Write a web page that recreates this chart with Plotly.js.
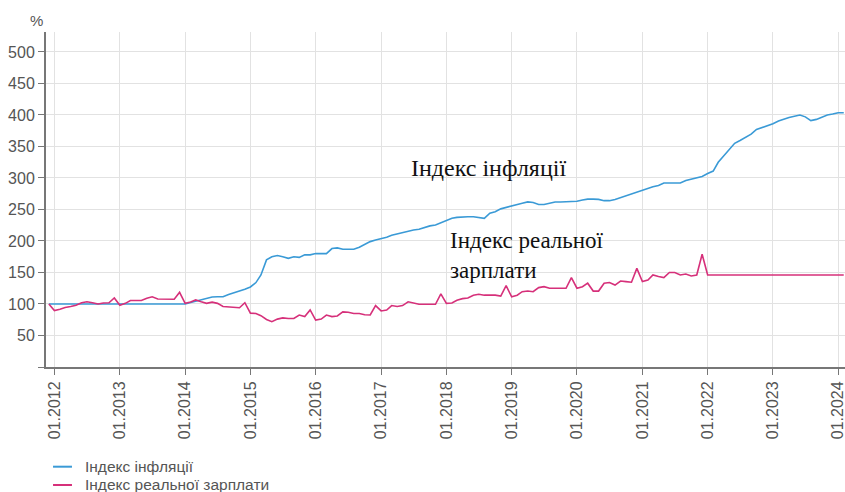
<!DOCTYPE html>
<html><head><meta charset="utf-8">
<script src="https://cdn.plot.ly/plotly-3.0.1.min.js"></script>
<style>html,body{margin:0;padding:0;background:#fff}#chart{width:845px;height:492px}</style>
</head><body><div id="chart"></div>
<script>
// Monthly series from 12.2011 to 02.2024
var startYear = 2011, startMonth = 12, nMonths = 147;

var inflationIndex = [
  100,
  100,100,100,100,100,100,100,100,100,100,100,100,
  100,100,100,100,100,100,100,100,100,100,100,100,
  100,102.5,104.5,107,110,111,111.5,111.5,115,117.5,120,123.5,
  127,134,146,170,175,177,175,172.5,175,174,178,178,
  180,180,180,188,189,187,187,187,190,194,199,201.5,
  203.5,206,209,211,213,216,217.5,218.5,221.5,224,225.5,229,
  233,236,237.5,238.5,238.5,238.5,237,236,244,246.5,251,253.5,
  255.5,257.5,260,262,261,258,258,260,262,262,262,262,
  263,265,266.5,266.5,266,264,264,266,269,272,274.5,278,
  281,283,286,288,292,292,292,292,296,298.5,300,302.5,
  307,311,325,335,345,355,359.5,364,369.5,377,380,384,
  386,390.5,393.5,396,398,400,397,391,393,397,400,401.5,
  403.5,403.5
];

var realWageIndex = [
  100,
  89.5,91.5,94.5,96,98,102,103.5,102,100,101.5,102,109.5,
  98,101,105.5,105.5,105.5,109,111.5,108,107.5,107.5,107.5,118.5,
  101,103,106.5,103.5,101,103,101,96,95.5,94,94,102,
  85.5,85,81.5,75.5,72,76,78,77,77,82.5,80,90.5,
  74.5,76,82.5,80,81,87.5,87,85,85,83,82.5,97.5,
  89,90.5,97.5,96,97.5,103.5,102,99.5,99.5,99.5,99.5,116,
  101,101.5,106,108.5,109.5,114,115.5,114,114,114,112.5,129,
  111.5,114,119.5,120.5,119.5,126,127.5,125,125,125,125,142,
  125,127.5,133,120.5,120.5,133,134,130,136.5,135.5,134.5,156.5,
  135.5,138,146,143.5,142,150,150,146,147.5,144.5,146,179,
  146,146,146,146,146,146,146,146,146,146,146,146,
  146,146,146,146,146,146,146,146,146,146,146,146,
  146,146
];

var seriesNames = ['Індекс інфляції', 'Індекс реальної зарплати'];
var seriesColors = ['#3a9ad6', '#d6307a'];

var xTickVals = ['2012-01-01','2013-01-01','2014-01-01','2015-01-01','2016-01-01','2017-01-01','2018-01-01','2019-01-01','2020-01-01','2021-01-01','2022-01-01','2023-01-01','2024-01-01'];
var xTickText = ['01.2012','01.2013','01.2014','01.2015','01.2016','01.2017','01.2018','01.2019','01.2020','01.2021','01.2022','01.2023','01.2024'];
var yTickVals = [0,50,100,150,200,250,300,350,400,450,500];
var yTickText = ['','50','100','150','200','250','300','350','400','450','500'];

var months = [];
for (var i = 0; i < nMonths; i++) {
  var m = startMonth - 1 + i;
  var y = startYear + Math.floor(m / 12);
  var mm = (m % 12) + 1;
  months.push(y + '-' + (mm < 10 ? '0' : '') + mm + '-01');
}

var traces = [
  {x: months, y: inflationIndex, type: 'scatter', mode: 'lines', name: seriesNames[0],
   line: {color: seriesColors[0], width: 1.6}},
  {x: months, y: realWageIndex, type: 'scatter', mode: 'lines', name: seriesNames[1],
   line: {color: seriesColors[1], width: 1.6}}
];

var sans = 'Arial, "Liberation Sans", sans-serif';
var tickFont = {family: sans, size: 16, color: '#555'};
var serif = '"Liberation Serif", "Times New Roman", serif';

// custom legend (paper coordinates)
var legendRowsY = [-0.2976, -0.3522];
var shapes = [
  {type: 'rect', xref: 'paper', yref: 'paper', x0: 0.4493, x1: 0.6658, y0: 0.5522, y1: 0.6478,
   fillcolor: '#fff', line: {width: 0}, layer: 'between'},
  {type: 'rect', xref: 'paper', yref: 'paper', x0: 0.5019, x1: 0.7472, y0: 0.2716, y1: 0.4149,
   fillcolor: '#fff', line: {width: 0}, layer: 'between'}
];
var annotations = [
  {text: '%', xref: 'paper', yref: 'paper', x: -0.0113, y: 1.034, xanchor: 'center', yanchor: 'middle',
   showarrow: false, font: {family: sans, size: 15, color: '#555'}},
  {text: seriesNames[0], xref: 'paper', yref: 'paper', x: 0.5532, y: 0.594, xanchor: 'center', yanchor: 'middle',
   showarrow: false, font: {family: serif, size: 24, color: '#111'}},
  {text: 'Індекс реальної<br>зарплати', xref: 'paper', yref: 'paper', x: 0.5031, y: 0.333, xanchor: 'left', yanchor: 'middle',
   align: 'left', showarrow: false, font: {family: serif, size: 23, color: '#111'}}
];
for (var k = 0; k < seriesNames.length; k++) {
  shapes.push({type: 'line', xref: 'paper', yref: 'paper', x0: 0.0088, x1: 0.0325,
               y0: legendRowsY[k], y1: legendRowsY[k], line: {color: seriesColors[k], width: 2}});
  annotations.push({text: seriesNames[k], xref: 'paper', yref: 'paper', x: 0.0463, y: legendRowsY[k],
                    xanchor: 'left', yanchor: 'middle', showarrow: false,
                    font: {family: sans, size: 15.5, color: '#555'}});
}

var layout = {
  width: 845, height: 492,
  margin: {l: 46, r: 0, t: 32, b: 125, pad: 0, autoexpand: false},
  paper_bgcolor: '#fff', plot_bgcolor: '#fff',
  showlegend: false,
  xaxis: {type: 'date', range: ['2011-11-15', '2024-02-08'], automargin: false,
          tickmode: 'array', tickvals: xTickVals, ticktext: xTickText, tickangle: -90,
          ticklabeloverflow: 'allow',
          ticks: 'outside', ticklen: 6, tickwidth: 1, tickcolor: '#777',
          showline: true, linecolor: '#777', linewidth: 2,
          showgrid: true, gridcolor: '#e2e2e2', gridwidth: 1, zeroline: false,
          tickfont: tickFont, fixedrange: true},
  yaxis: {range: [0, 531.7], automargin: false, tickmode: 'array', tickvals: yTickVals, ticktext: yTickText,
          ticks: 'outside', ticklen: 6, tickwidth: 1, tickcolor: '#777',
          showline: true, linecolor: '#777', linewidth: 2,
          showgrid: true, gridcolor: '#e2e2e2', gridwidth: 1, zeroline: false,
          tickfont: tickFont, fixedrange: true},
  shapes: shapes,
  annotations: annotations
};

Plotly.newPlot('chart', traces, layout, {displayModeBar: false, staticPlot: true});
</script></body></html>
